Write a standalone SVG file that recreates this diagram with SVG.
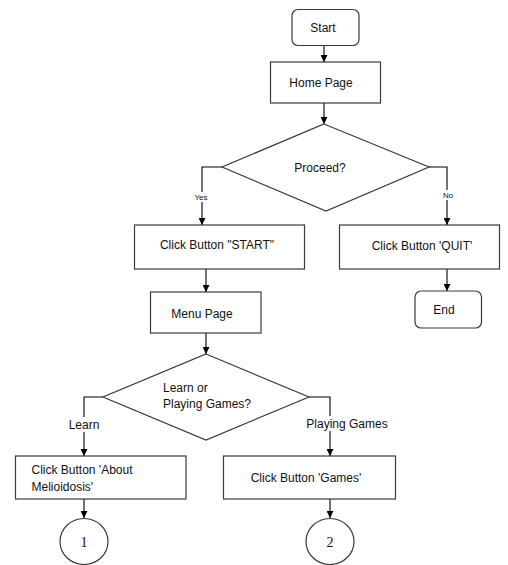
<svg xmlns="http://www.w3.org/2000/svg" width="508" height="565" viewBox="0 0 508 565">
<defs>
<marker id="arr" markerUnits="userSpaceOnUse" markerWidth="8" markerHeight="7" refX="7" refY="3.5" orient="auto">
<path d="M0,0 L7,3.5 L0,7 z" fill="#000"/>
</marker>
<style>
.box{fill:#fff;stroke:#3a3a3a;stroke-width:1.2}
.t{font-family:"Liberation Sans",Arial,sans-serif;font-size:12px;fill:#111}
.c{text-anchor:middle}
.s{font-family:"Liberation Sans",Arial,sans-serif;font-size:8px;fill:#111;text-anchor:middle}
.n{font-family:"Liberation Serif","Times New Roman",serif;font-size:14px;fill:#111;text-anchor:middle}
.ln{fill:none;stroke:#000;stroke-width:1.1}
.lb{fill:#fff}
</style>
</defs>
<rect width="508" height="565" fill="#fff"/>
<g id="connectors">
<path class="ln" d="M324,46 V62" marker-end="url(#arr)"/>
<path class="ln" d="M324,103 V124" marker-end="url(#arr)"/>
<path class="ln" d="M222,167 H202 V225" marker-end="url(#arr)"/>
<path class="ln" d="M429,167 H447 V225" marker-end="url(#arr)"/>
<path class="ln" d="M206,269 V292" marker-end="url(#arr)"/>
<path class="ln" d="M447,269 V291" marker-end="url(#arr)"/>
<path class="ln" d="M206,333 V354" marker-end="url(#arr)"/>
<path class="ln" d="M103,397 H84 V456" marker-end="url(#arr)"/>
<path class="ln" d="M309,397 H330 V456" marker-end="url(#arr)"/>
<path class="ln" d="M84,499 V518" marker-end="url(#arr)"/>
<path class="ln" d="M330,499 V518" marker-end="url(#arr)"/>
<rect class="lb" x="193" y="192" width="16" height="10"/>
<text class="s" x="201" y="200">Yes</text>
<rect class="lb" x="441" y="190" width="13" height="10"/>
<text class="s" x="448" y="198">No</text>
<rect class="lb" x="67" y="417" width="34" height="15"/>
<text class="t c" x="84" y="429">Learn</text>
<rect class="lb" x="305" y="416" width="84" height="15"/>
<text class="t c" x="347" y="428">Playing Games</text>
</g>
<g id="start">
<rect class="box" x="292" y="9.5" width="67" height="36" rx="6"/>
<text class="t c" x="323" y="32">Start</text>
</g>
<g id="home">
<rect class="box" x="270.5" y="62" width="110" height="41"/>
<text class="t c" x="321" y="86.5">Home Page</text>
</g>
<g id="proceed">
<polygon class="box" points="324,124 429,167 326,211 222,167"/>
<text class="t c" x="320" y="171.5">Proceed?</text>
</g>
<g id="clickStart">
<rect class="box" x="134.5" y="225" width="170" height="44"/>
<text class="t c" x="217" y="249">Click Button "START"</text>
</g>
<g id="clickQuit">
<rect class="box" x="339.5" y="225" width="160" height="44"/>
<text class="t c" x="422" y="250">Click Button 'QUIT'</text>
</g>
<g id="end">
<rect class="box" x="415" y="291" width="66.5" height="37" rx="6"/>
<text class="t c" x="444" y="314">End</text>
</g>
<g id="menu">
<rect class="box" x="150.5" y="292" width="110.5" height="41"/>
<text class="t c" x="202" y="318">Menu Page</text>
</g>
<g id="learnOrPlay">
<polygon class="box" points="206,354 309,397 206,440 103,397"/>
<text class="t" x="163" y="391.5">Learn or</text>
<text class="t" x="163" y="407.5">Playing Games?</text>
</g>
<g id="about">
<rect class="box" x="15.5" y="456" width="170.5" height="43"/>
<text class="t" x="31.5" y="474">Click Button 'About</text>
<text class="t" x="31.5" y="491">Melioidosis'</text>
</g>
<g id="games">
<rect class="box" x="223.5" y="456" width="172" height="43"/>
<text class="t c" x="306" y="482">Click Button 'Games'</text>
</g>
<g id="c1">
<ellipse class="box" cx="84" cy="541.5" rx="24" ry="23"/>
<text class="n" x="84" y="546.5">1</text>
</g>
<g id="c2">
<ellipse class="box" cx="330" cy="541.5" rx="24" ry="23"/>
<text class="n" x="330" y="546.5">2</text>
</g>
</svg>
